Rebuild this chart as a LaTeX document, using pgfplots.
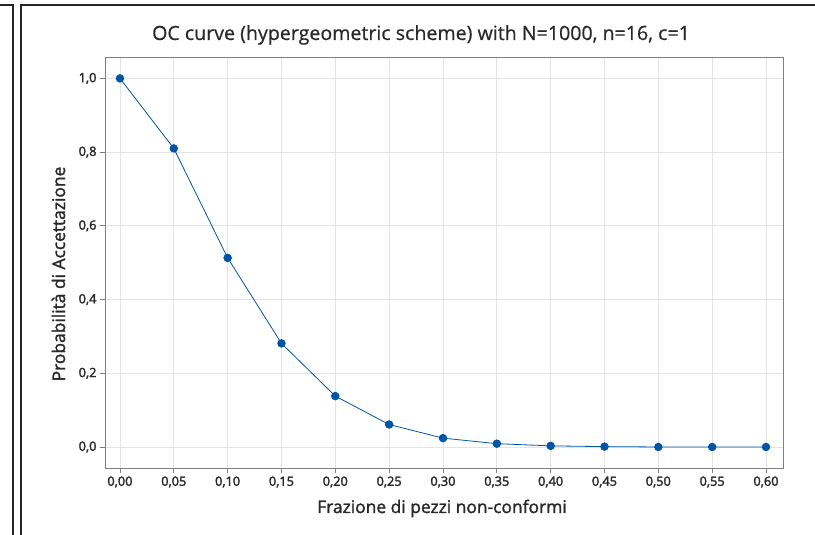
\documentclass[border=0pt]{standalone}
\usepackage{fontspec}
\setmainfont{Open Sans}
\newfontfamily\semib[FakeBold=2.2]{Open Sans}
\newfontfamily\medf[FakeBold=1.6]{Open Sans}
\newfontfamily\titf[FakeBold=0.6]{Open Sans}
\usepackage{pgfplots}
\pgfplotsset{compat=1.18}
\definecolor{ocblue}{RGB}{0,84,166}
\definecolor{txt}{RGB}{40,40,40}
\definecolor{gridc}{RGB}{228,228,228}
\definecolor{framec}{RGB}{128,128,128}
\begin{document}
\begin{tikzpicture}[x=1bp,y=1bp]
\path[use as bounding box] (0,0) rectangle (815,535);
\draw[line width=2bp, black!85] (0,530) -- (13,530) -- (13,0);
\draw[line width=2bp, black!85] (21,0) -- (21,530) -- (815,530);
\begin{axis}[
  at={(105bp,67bp)}, anchor=south west,
  width=678bp, height=411bp, scale only axis,
  xmin=-0.0139, xmax=0.6158, ymin=-0.057, ymax=1.058,
  xtick={0,0.05,0.1,0.15,0.2,0.25,0.3,0.35,0.4,0.45,0.5,0.55,0.6},
  xticklabels={{0,00},{0,05},{0,10},{0,15},{0,20},{0,25},{0,30},{0,35},{0,40},{0,45},{0,50},{0,55},{0,60}},
  ytick={0,0.2,0.4,0.6,0.8,1.0},
  yticklabels={{0,0},{0,2},{0,4},{0,6},{0,8},{1,0}},
  xtick pos=bottom, ytick pos=left,
  tick align=outside, major tick length=5bp,
  tick style={framec, line width=0.8bp},
  axis line style={framec, line width=0.8bp},
  grid=major, major grid style={gridc, line width=0.8bp},
  ticklabel style={font=\semib\fontsize{12.8bp}{14bp}\selectfont, text=txt},
]
\addplot[ocblue, line width=0.8bp, mark=*, mark size=3.8bp, mark options={fill=ocblue, draw=ocblue}]
coordinates {
(0.00,1.000) (0.05,0.810) (0.10,0.513) (0.15,0.281) (0.20,0.138)
(0.25,0.061) (0.30,0.024) (0.35,0.009) (0.40,0.003) (0.45,0.001)
(0.50,0.000) (0.55,0.000) (0.60,0.000)
};
\end{axis}
\node[anchor=base, text=txt, font=\titf\fontsize{19.6bp}{22bp}\selectfont, inner sep=0] at (421,495) {OC curve (hypergeometric scheme) with N=1000, n=16, c=1};
\node[anchor=base, text=txt, font=\medf\fontsize{17.4bp}{20bp}\selectfont, inner sep=0] at (442,22) {Frazione di pezzi non-conformi};
\node[anchor=base, rotate=90, text=txt, font=\medf\fontsize{17.4bp}{20bp}\selectfont, inner sep=0] at (65,261) {Probabilità di Accettazione};
\end{tikzpicture}
\end{document}
